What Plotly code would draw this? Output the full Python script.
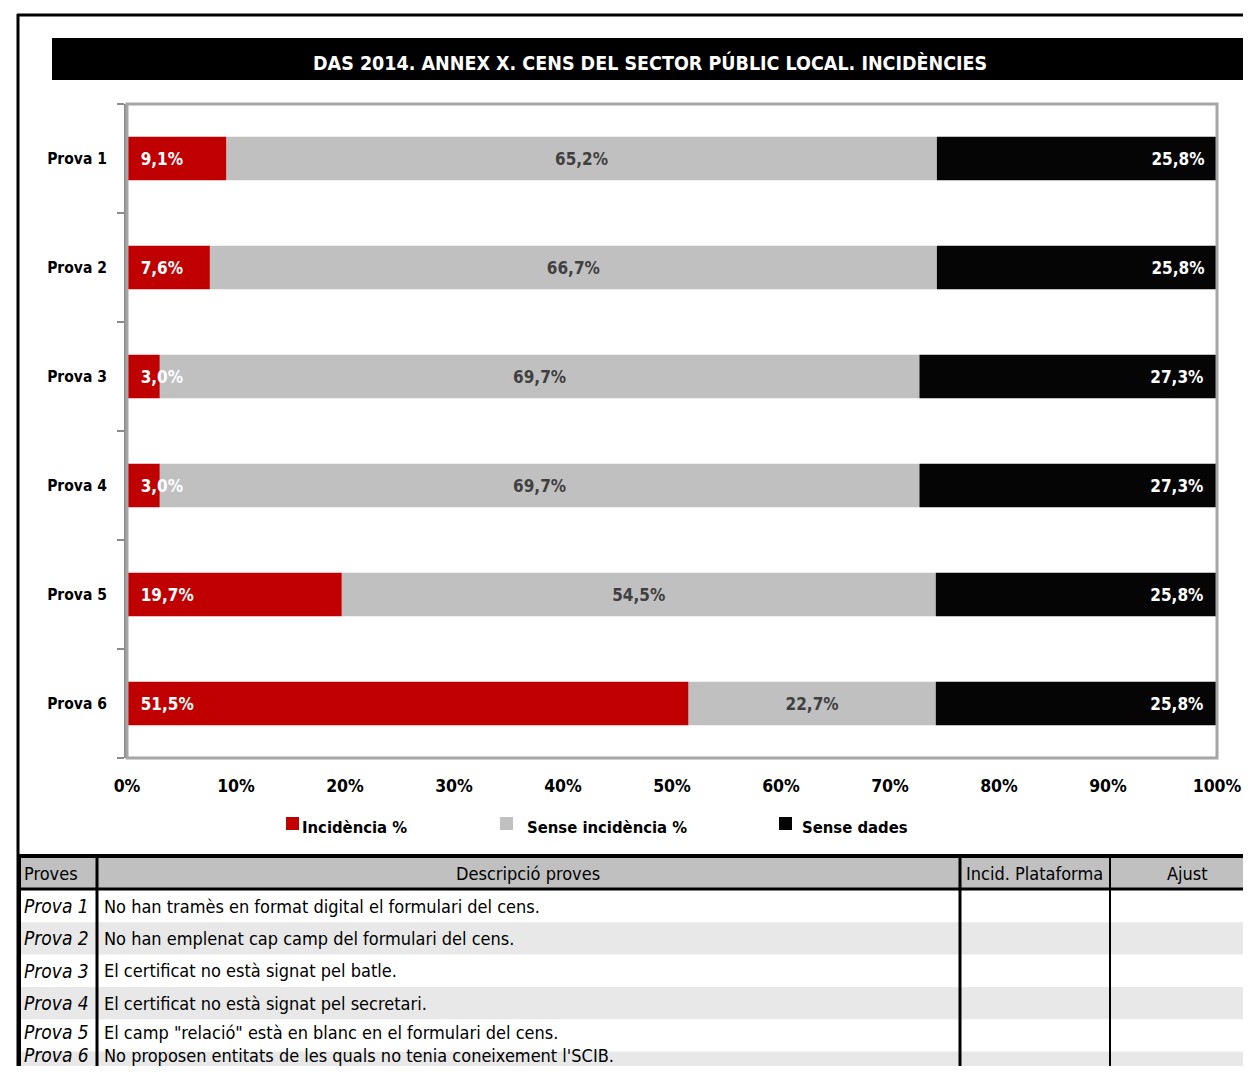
import plotly.graph_objects as go

# ---------------- data ----------------
categories = ["Prova 1", "Prova 2", "Prova 3", "Prova 4", "Prova 5", "Prova 6"]
incidencia = [9.1, 7.6, 3.0, 3.0, 19.7, 51.5]
sense_incidencia = [65.2, 66.7, 69.7, 69.7, 54.5, 22.7]
sense_dades = [25.8, 25.8, 27.3, 27.3, 25.8, 25.8]
series_names = ["Incidència %", "Sense incidència %", "Sense dades"]
x_ticks = [0, 10, 20, 30, 40, 50, 60, 70, 80, 90, 100]
x_ticklabels = [f"{v}%" for v in x_ticks]
title_text = "DAS 2014. ANNEX X. CENS DEL SECTOR PÚBLIC LOCAL. INCIDÈNCIES"
table_headers = ["Proves", "Descripció proves", "Incid. Plataforma", "Ajust"]
table_descriptions = [
    "No han tramès en format digital el formulari del cens.",
    "No han emplenat cap camp del formulari del cens.",
    "El certificat no està signat pel batle.",
    "El certificat no està signat pel secretari.",
    "El camp \"relació\" està en blanc en el formulari del cens.",
    "No proposen entitats de les quals no tenia coneixement l'SCIB.",
]

# ---------------- styling ----------------
OFF = 8                      # default page margin of the html body
W, H = 1251 - 2 * OFF, 1074 - 2 * OFF
FONT = "DejaVu Sans Condensed, Liberation Sans Narrow, Arial Narrow, sans-serif"
RED, GRAY, BLACK = "#c00000", "#c0c0c0", "#050505"
NB = "\u00a0"


def px(x):
    return min(max((x - OFF) / W, 0), 1)


def py(y):
    return min(max(1 - (y - OFF) / H, 0), 1)


def fmt(v):
    return f"{v:.1f}".replace(".", ",") + "%"


# stacking bases derived from the data (red drawn last so its labels stay on top)
base_gray = incidencia
base_black = [a + b for a, b in zip(incidencia, sense_incidencia)]

fig = go.Figure()
trace_specs = [
    (series_names[1], sense_incidencia, base_gray, GRAY, "middle", "#404040", "", ""),
    (series_names[2], sense_dades, base_black, BLACK, "end", "white", "", NB * 2),
    (series_names[0], incidencia, [0] * len(incidencia), RED, "start", "white", NB * 2, ""),
]
for name, vals, base, col, anc, tc, pre, post in trace_specs:
    fig.add_trace(go.Bar(
        y=categories, x=vals, base=base, name=name, orientation="h",
        marker=dict(color=col, line=dict(width=0)),
        text=[f"<b>{pre}{fmt(v)}{post}</b>" for v in vals], textposition="inside", insidetextanchor=anc,
        textangle=0, textfont=dict(family=FONT, size=17, color=tc),
        constraintext="none", showlegend=False, hoverinfo="skip",
    ))

fig.update_layout(
    width=W, height=H, margin=dict(l=0, r=0, t=0, b=0, pad=0, autoexpand=False),
    paper_bgcolor="white", plot_bgcolor="white",
    showlegend=False,
    barmode="overlay", bargap=0.6,
    uniformtext=dict(minsize=17, mode="show"),
    font=dict(family=FONT, color="black"),
    xaxis=dict(domain=[px(127), px(1217)], range=[0, 100], tickvals=x_ticks, automargin=False,
               ticktext=[f"<b>{t}</b>" for t in x_ticklabels],
               showgrid=False, zeroline=False, showline=False, ticks="",
               ticklabelstandoff=15, tickfont=dict(family=FONT, size=17.5, color="black")),
    yaxis=dict(domain=[py(758), py(104)], autorange="reversed", type="category", automargin=False,
               tickvals=categories, ticktext=[f"<b>{c}</b>" for c in categories],
               showgrid=False, zeroline=False, showline=True, linecolor="#8c8c8c", linewidth=3,
               ticks="outside", tickson="boundaries", ticklen=7, tickwidth=2, tickcolor="#8c8c8c",
               ticklabelstandoff=14, tickfont=dict(family=FONT, size=15.5, color="black")),
)

shapes = []
annotations = []

# plot-area frame
shapes.append(dict(type="rect", xref="x domain", yref="y domain", x0=0, x1=1, y0=0, y1=1,
                   line=dict(color="#a6a6a6", width=3), layer="above"))

# outer frame of chart object
shapes.append(dict(type="line", xref="paper", yref="paper", x0=px(17), x1=1, y0=py(15), y1=py(15),
                   line=dict(color="black", width=3)))
shapes.append(dict(type="line", xref="paper", yref="paper", x0=px(18), x1=px(18), y0=py(14), y1=0,
                   line=dict(color="black", width=3)))

# title bar
shapes.append(dict(type="rect", xref="paper", yref="paper", x0=px(52), x1=1, y0=py(80), y1=py(38),
                   fillcolor="black", line=dict(width=0)))
annotations.append(dict(xref="paper", yref="paper", x=px(650), y=py(63), text=f"<b>{title_text}</b>",
                        showarrow=False, font=dict(family=FONT, size=19.5, color="white"),
                        xanchor="center", yanchor="middle"))

# manual legend
leg_colors = [RED, GRAY, BLACK]
leg_x = [286, 500, 779]
leg_text_x = [300, 525, 800]
for col, name, lx, tx in zip(leg_colors, series_names, leg_x, leg_text_x):
    shapes.append(dict(type="rect", xref="paper", yref="paper", x0=px(lx), x1=px(lx + 13),
                       y0=py(830), y1=py(817), fillcolor=col, line=dict(width=0)))
    annotations.append(dict(xref="paper", yref="paper", x=px(tx), y=py(827), text=f"<b>{name}</b>",
                            showarrow=False, font=dict(family=FONT, size=16.5, color="black"),
                            xanchor="left", yanchor="middle"))

# ---------------- table ----------------
tbl_top, hdr_bot = 856, 889
row_h = 32.3
col_lines = [19, 97, 960, 1110]
TS = 18
last_text_y, min_text_gap = 1055, 23   # keep the last rows' text inside the page
n_rows = len(table_descriptions)
# header fill
shapes.append(dict(type="rect", xref="paper", yref="paper", x0=px(18), x1=1, y0=py(hdr_bot), y1=py(tbl_top),
                   fillcolor="#c0c0c0", line=dict(width=0), layer="below"))
# alternating rows
for i in range(n_rows):
    y0 = hdr_bot + 1 + i * row_h
    if i % 2 == 1:
        shapes.append(dict(type="rect", xref="paper", yref="paper", x0=px(18), x1=1,
                           y0=py(y0 + row_h), y1=py(y0), fillcolor="#e8e8e8", line=dict(width=0), layer="below"))
    yc = min(y0 + row_h / 2, last_text_y - (n_rows - 1 - i) * min_text_gap)
    annotations.append(dict(xref="paper", yref="paper", x=px(22), y=py(yc),
                            text=f"<i>{categories[i]}</i>",
                            showarrow=False, xanchor="left", yanchor="middle",
                            font=dict(family=FONT, size=19, color="black")))
    annotations.append(dict(xref="paper", yref="paper", x=px(102), y=py(yc),
                            text=table_descriptions[i],
                            showarrow=False, xanchor="left", yanchor="middle",
                            font=dict(family=FONT, size=TS, color="black")))
# horizontal table lines
shapes.append(dict(type="line", xref="paper", yref="paper", x0=px(17), x1=1, y0=py(tbl_top), y1=py(tbl_top),
                   line=dict(color="black", width=4)))
shapes.append(dict(type="line", xref="paper", yref="paper", x0=px(17), x1=1, y0=py(hdr_bot), y1=py(hdr_bot),
                   line=dict(color="black", width=3)))
# vertical table lines
for cx, lw in zip(col_lines, [4, 3, 3, 2]):
    shapes.append(dict(type="line", xref="paper", yref="paper", x0=px(cx), x1=px(cx), y0=py(tbl_top), y1=0,
                       line=dict(color="black", width=lw)))
# header texts
hdr_pos = [(22, "left"), (528, "center"), (964, "left"), (1187, "center")]
for txt, (hx, anc) in zip(table_headers, hdr_pos):
    annotations.append(dict(xref="paper", yref="paper", x=px(hx), y=py(873), text=txt, showarrow=False,
                            xanchor=anc, yanchor="middle", font=dict(family=FONT, size=TS, color="black")))

fig.update_layout(shapes=shapes, annotations=annotations)
fig.write_html("out.html")
